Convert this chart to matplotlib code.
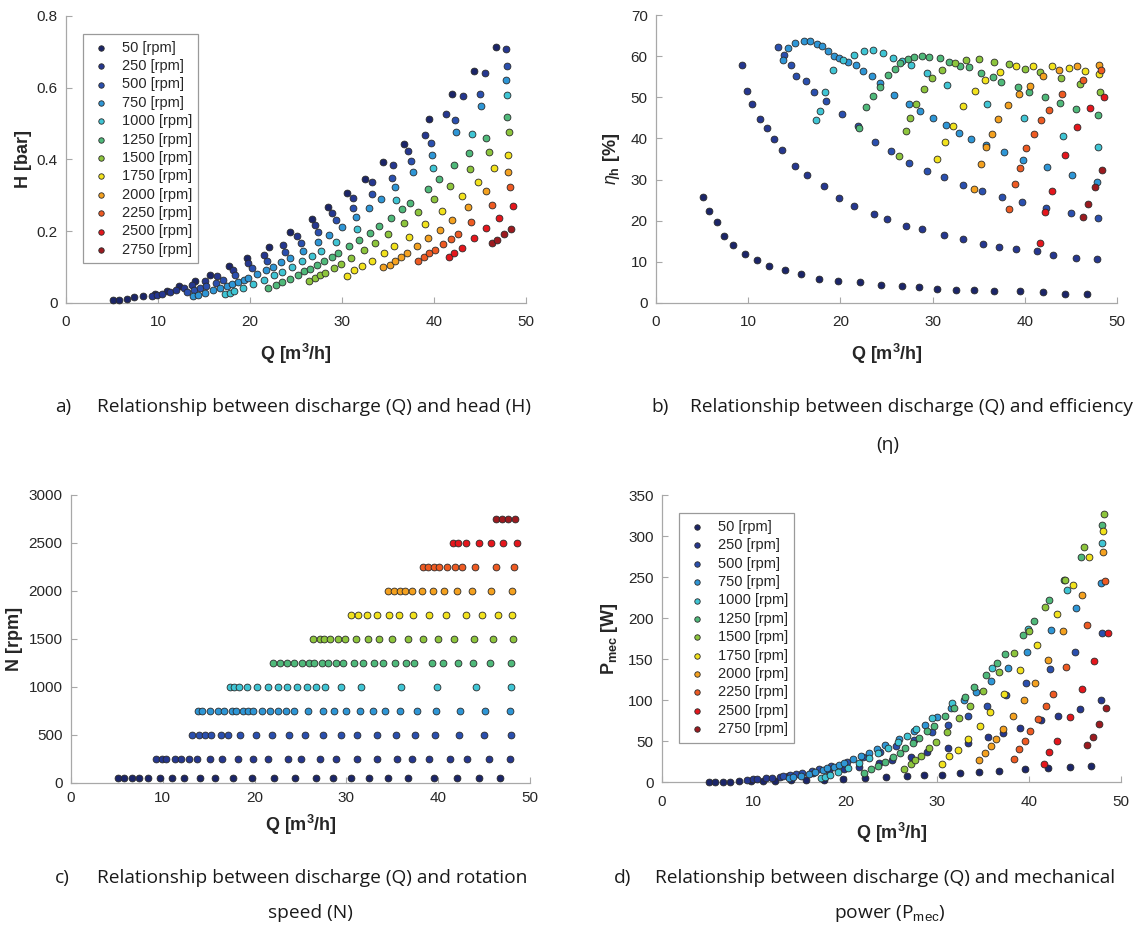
import matplotlib
matplotlib.use("Agg")
import matplotlib.pyplot as plt

plt.rcParams['font.family'] = ['Liberation Sans', 'DejaVu Sans']
plt.rcParams['mathtext.fontset'] = 'custom'
plt.rcParams['mathtext.rm'] = 'Liberation Sans'
plt.rcParams['mathtext.it'] = 'Liberation Sans:italic'
plt.rcParams['mathtext.bf'] = 'Liberation Sans:bold'

# ---------------- data ----------------
SPEEDS = [50, 250, 500, 750, 1000, 1250, 1500, 1750, 2000, 2250, 2500, 2750]

Q_50 = [5.1, 5.8, 6.6, 7.4, 8.4, 9.7, 11.0, 12.3, 14.0, 15.7, 17.7, 19.7, 22.1, 24.4, 26.7, 28.5, 30.5, 32.5, 34.5, 36.7, 39.5, 42.0, 44.4, 46.7]
H_50 = [0.007, 0.008, 0.012, 0.016, 0.020, 0.026, 0.033, 0.047, 0.061, 0.078, 0.102, 0.126, 0.156, 0.197, 0.234, 0.268, 0.307, 0.347, 0.393, 0.443, 0.513, 0.582, 0.647, 0.714]
E_50 = [25.7, 22.4, 19.6, 16.3, 14.0, 11.9, 10.3, 9.0, 8.0, 7.0, 5.8, 5.4, 5.0, 4.3, 4.0, 3.9, 3.4, 3.2, 3.1, 2.8, 2.8, 2.5, 2.2, 2.0]
P_50 = [0.3, 0.3, 0.4, 0.5, 0.7, 0.8, 1.0, 1.5, 1.9, 2.4, 2.9, 3.7, 4.8, 5.8, 7.3, 8.1, 9.0, 10.4, 12.0, 13.5, 15.9, 17.1, 17.9, 19.5]

Q_250 = [9.3, 9.9, 10.4, 11.3, 12.0, 12.8, 13.7, 15.1, 16.4, 18.2, 19.8, 21.5, 23.6, 25.1, 27.1, 28.9, 31.2, 33.3, 35.5, 37.2, 39.0, 41.3, 43.1, 45.5, 47.8]
H_250 = [0.020, 0.023, 0.026, 0.032, 0.036, 0.042, 0.049, 0.062, 0.074, 0.093, 0.112, 0.133, 0.163, 0.186, 0.218, 0.250, 0.294, 0.337, 0.385, 0.424, 0.468, 0.527, 0.576, 0.640, 0.707]
E_250 = [58.0, 51.6, 48.4, 44.8, 42.6, 39.9, 37.2, 33.4, 31.0, 28.4, 25.6, 23.6, 21.5, 20.4, 18.7, 18.0, 16.4, 15.4, 14.4, 13.6, 13.1, 12.5, 11.7, 11.0, 10.6]
P_250 = [3.0, 3.3, 3.6, 4.4, 5.2, 6.0, 7.0, 8.6, 10.5, 13.4, 15.8, 18.7, 23.0, 26.5, 30.7, 36.1, 41.8, 48.0, 54.7, 59.6, 66.4, 75.6, 80.7, 89.5, 99.5]

Q_500 = [13.2, 13.9, 14.6, 15.2, 16.3, 17.1, 18.4, 20.2, 21.9, 23.8, 25.5, 27.4, 29.4, 31.2, 33.3, 35.4, 37.5, 39.7, 42.3, 45.0, 47.9]
H_500 = [0.031, 0.036, 0.042, 0.047, 0.056, 0.064, 0.077, 0.097, 0.117, 0.143, 0.167, 0.197, 0.231, 0.264, 0.305, 0.348, 0.395, 0.446, 0.510, 0.582, 0.662]
E_500 = [62.2, 60.3, 57.8, 55.3, 54.0, 51.3, 49.2, 46.0, 43.1, 39.2, 37.0, 34.1, 32.1, 30.6, 28.7, 27.1, 25.7, 24.6, 23.1, 21.8, 20.6]
P_500 = [7.1, 8.4, 9.8, 11.0, 13.7, 15.6, 19.4, 25.0, 30.7, 37.1, 43.8, 51.1, 60.6, 70.0, 81.0, 92.7, 105.7, 121.0, 138.4, 158.6, 181.5]

Q_750 = [13.8, 14.3, 15.1, 16.0, 16.7, 17.5, 18.0, 18.7, 19.3, 19.8, 20.8, 21.7, 22.5, 23.4, 24.3, 25.8, 27.4, 28.6, 30.0, 31.5, 32.9, 34.2, 35.8, 37.7, 39.8, 42.4, 45.1, 47.8]
H_750 = [0.019, 0.023, 0.028, 0.035, 0.041, 0.048, 0.053, 0.059, 0.065, 0.071, 0.081, 0.092, 0.101, 0.113, 0.125, 0.146, 0.169, 0.189, 0.212, 0.239, 0.265, 0.290, 0.323, 0.365, 0.413, 0.477, 0.548, 0.621]
E_750 = [59.2, 62.0, 63.3, 63.7, 63.7, 63.0, 62.6, 61.3, 60.2, 59.6, 58.7, 57.8, 56.5, 55.2, 53.4, 50.6, 48.4, 46.7, 44.9, 43.3, 41.4, 39.9, 38.5, 36.6, 34.7, 33.1, 31.0, 29.5]
P_750 = [4.4, 5.6, 7.5, 10.0, 12.1, 14.7, 16.5, 18.9, 21.1, 23.1, 27.6, 32.0, 35.8, 40.4, 44.9, 52.8, 62.4, 70.0, 79.4, 90.4, 100.2, 110.1, 123.7, 139.7, 158.4, 185.8, 212.8, 243.5]

Q_1000 = [17.3, 17.8, 18.3, 19.2, 20.3, 21.5, 22.6, 23.5, 24.6, 25.7, 26.7, 27.7, 29.4, 31.6, 35.9, 39.9, 44.1, 47.9]
H_1000 = [0.025, 0.029, 0.033, 0.041, 0.052, 0.064, 0.077, 0.087, 0.101, 0.116, 0.130, 0.144, 0.170, 0.207, 0.288, 0.375, 0.471, 0.579]
E_1000 = [44.4, 46.7, 51.4, 56.7, 59.0, 60.4, 61.4, 61.6, 60.8, 59.5, 58.8, 58.0, 55.9, 53.0, 48.5, 44.9, 40.7, 37.9]
P_1000 = [5.3, 6.7, 8.7, 12.5, 17.3, 23.2, 29.6, 35.1, 42.0, 49.1, 56.5, 64.3, 77.7, 96.4, 139.4, 186.5, 235.0, 292.2]

Q_1250 = [22.0, 22.8, 23.5, 24.3, 25.2, 25.9, 26.5, 27.3, 28.0, 28.9, 29.6, 30.8, 31.8, 33.0, 34.0, 35.3, 36.5, 37.4, 39.3, 40.5, 42.2, 43.8, 45.6, 47.9]
H_1250 = [0.043, 0.051, 0.059, 0.068, 0.079, 0.088, 0.096, 0.107, 0.116, 0.129, 0.140, 0.159, 0.175, 0.196, 0.214, 0.238, 0.261, 0.279, 0.319, 0.346, 0.385, 0.417, 0.460, 0.518]
E_1250 = [42.6, 47.7, 50.4, 52.5, 55.4, 56.9, 58.5, 59.3, 59.8, 60.0, 59.8, 59.5, 58.7, 57.7, 57.3, 55.9, 54.9, 53.8, 52.6, 51.4, 50.0, 48.7, 47.2, 45.6]
P_1250 = [11.1, 15.5, 19.4, 24.2, 30.7, 36.0, 41.2, 47.9, 54.1, 62.3, 68.8, 80.8, 90.8, 103.5, 115.6, 130.4, 145.3, 156.0, 180.0, 197.0, 222.0, 247.0, 275.1, 314.3]

Q_1500 = [26.4, 27.1, 27.6, 28.2, 29.1, 29.9, 31.0, 32.4, 33.6, 35.0, 36.7, 38.3, 40.0, 41.7, 43.9, 46.0, 48.2]
H_1500 = [0.062, 0.070, 0.077, 0.085, 0.097, 0.109, 0.125, 0.147, 0.167, 0.192, 0.224, 0.255, 0.290, 0.327, 0.373, 0.422, 0.476]
E_1500 = [35.8, 41.8, 44.9, 48.3, 52.0, 54.7, 56.7, 58.5, 59.1, 59.4, 58.7, 58.1, 57.0, 56.3, 54.8, 53.2, 51.4]
P_1500 = [16.2, 22.2, 26.4, 32.1, 40.9, 49.4, 61.1, 77.6, 92.4, 110.9, 133.7, 157.6, 183.8, 213.5, 246.0, 286.9, 327.6]

Q_1750 = [30.5, 31.3, 32.2, 33.3, 34.6, 35.7, 37.3, 39.0, 40.9, 43.0, 44.8, 46.5, 48.0]
H_1750 = [0.076, 0.092, 0.103, 0.117, 0.139, 0.159, 0.185, 0.219, 0.256, 0.297, 0.338, 0.377, 0.413]
E_1750 = [34.9, 39.1, 43.0, 48.0, 51.6, 54.3, 56.1, 57.7, 57.7, 57.7, 57.2, 56.5, 55.6]
P_1750 = [22.5, 31.3, 39.6, 52.0, 68.9, 85.6, 107.5, 136.9, 167.8, 204.7, 240.6, 275.1, 306.1]

Q_2000 = [34.5, 35.2, 35.8, 36.4, 37.1, 38.2, 39.4, 40.6, 42.0, 43.7, 45.7, 48.0]
H_2000 = [0.099, 0.106, 0.116, 0.127, 0.140, 0.158, 0.180, 0.203, 0.231, 0.268, 0.312, 0.365]
E_2000 = [27.7, 33.7, 37.9, 41.0, 44.7, 48.2, 50.9, 52.8, 55.3, 56.7, 57.7, 57.8]
P_2000 = [26.3, 34.9, 43.7, 52.7, 64.5, 80.8, 100.3, 120.9, 149.0, 184.4, 228.6, 281.3]

Q_2250 = [38.3, 38.9, 39.5, 40.1, 41.0, 41.8, 42.6, 44.0, 46.3, 48.3]
H_2250 = [0.117, 0.127, 0.138, 0.149, 0.164, 0.179, 0.193, 0.226, 0.274, 0.322]
E_2250 = [22.8, 29.0, 32.9, 37.7, 41.1, 44.6, 46.9, 50.8, 54.3, 56.7]
P_2250 = [28.4, 39.8, 49.8, 62.6, 76.8, 92.7, 107.1, 140.3, 191.4, 244.9]

Q_2500 = [41.6, 42.2, 43.0, 44.4, 45.7, 47.1, 48.6]
H_2500 = [0.128, 0.140, 0.154, 0.180, 0.209, 0.238, 0.270]
E_2500 = [14.5, 22.2, 27.3, 36.0, 42.7, 47.5, 50.0]
P_2500 = [21.4, 36.4, 50.2, 79.9, 113.3, 147.9, 182.2]

Q_2750 = [46.3, 46.9, 47.6, 48.4]
H_2750 = [0.168, 0.177, 0.192, 0.207]
E_2750 = [20.8, 24.0, 28.1, 32.3]
P_2750 = [44.9, 55.3, 71.3, 89.9]

Q_ALL = [Q_50, Q_250, Q_500, Q_750, Q_1000, Q_1250, Q_1500, Q_1750, Q_2000, Q_2250, Q_2500, Q_2750]
H_ALL = [H_50, H_250, H_500, H_750, H_1000, H_1250, H_1500, H_1750, H_2000, H_2250, H_2500, H_2750]
E_ALL = [E_50, E_250, E_500, E_750, E_1000, E_1250, E_1500, E_1750, E_2000, E_2250, E_2500, E_2750]
P_ALL = [P_50, P_250, P_500, P_750, P_1000, P_1250, P_1500, P_1750, P_2000, P_2250, P_2500, P_2750]

COLORS = ['#1b2568', '#25378f', '#2a4fae', '#2e96d6', '#3fc5d4', '#4fb97a',
          '#8dc53c', '#f2e21c', '#f4a11f', '#ee5a22', '#e5161c', '#9c1a1f']

# ---------------- figure ----------------
W, H = 1138, 933
fig = plt.figure(figsize=(W / 100, H / 100), dpi=100)


def add_axes(x0, x1, ytop, ybot):
    return fig.add_axes([x0 / W, 1 - ybot / H, (x1 - x0) / W, (ybot - ytop) / H])


ax_a = add_axes(66, 526, 16, 303)
ax_b = add_axes(656, 1117, 15.3, 302.7)
ax_c = add_axes(71, 530, 495, 782.7)
ax_d = add_axes(662, 1121, 495.3, 782)

AXC = '#a8a8a8'
TXT = '#262626'


def style(ax, ylim, yticks, ylabels):
    ax.set_xlim(0, 50)
    ax.set_xticks([0, 10, 20, 30, 40, 50])
    ax.set_ylim(*ylim)
    ax.set_yticks(yticks)
    ax.set_yticklabels(ylabels)
    for s in ['top', 'right']:
        ax.spines[s].set_visible(False)
    for s in ['left', 'bottom']:
        ax.spines[s].set_color(AXC)
        ax.spines[s].set_linewidth(0.9)
    ax.tick_params(direction='in', length=4, width=0.8, color=AXC,
                   labelsize=11, labelcolor=TXT, pad=6)
    ax.tick_params(axis='x', pad=9)
    ax.set_xlabel(r'Q [m$^\mathbf{3}$/h]', fontsize=13, fontweight='bold',
                  color=TXT, labelpad=9)


MS = 24
for i, n in enumerate(SPEEDS):
    kw = dict(s=MS, c=COLORS[i], edgecolors='#2a2a2a', linewidths=0.6,
              zorder=3, clip_on=False, label=f'{n} [rpm]')
    ax_a.scatter(Q_ALL[i], H_ALL[i], **kw)
    ax_b.scatter(Q_ALL[i], E_ALL[i], **kw)
    ax_c.scatter(Q_ALL[i], [n] * len(Q_ALL[i]), **kw)
    ax_d.scatter(Q_ALL[i], P_ALL[i], **kw)

style(ax_a, (0, 0.8), [0, 0.2, 0.4, 0.6, 0.8], ['0', '0.2', '0.4', '0.6', '0.8'])
style(ax_b, (0, 70), [0, 10, 20, 30, 40, 50, 60, 70], ['0', '10', '20', '30', '40', '50', '60', '70'])
style(ax_c, (0, 3000), [0, 500, 1000, 1500, 2000, 2500, 3000],
      ['0', '500', '1000', '1500', '2000', '2500', '3000'])
style(ax_d, (0, 350), [0, 50, 100, 150, 200, 250, 300, 350],
      ['0', '50', '100', '150', '200', '250', '300', '350'])
ax_c.tick_params(axis='x', pad=6)
ax_c.xaxis.labelpad = 6

ax_a.set_ylabel('H [bar]', fontsize=13, fontweight='bold', color=TXT, labelpad=3)
ax_b.set_ylabel(r'$\eta_\mathbf{h}$ [%]', fontsize=13, fontweight='bold', color=TXT, labelpad=6)
ax_c.set_ylabel('N [rpm]', fontsize=13, fontweight='bold', color=TXT, labelpad=4)
ax_d.set_ylabel(r'$\mathbf{P_{mec}}$ [W]', fontsize=13, fontweight='bold', color=TXT, labelpad=6)

for ax in (ax_a, ax_d):
    leg = ax.legend(loc='upper left', bbox_to_anchor=(0.037, 0.937), borderaxespad=0,
                    fontsize=10.5, frameon=True, fancybox=False, edgecolor='#9a9a9a',
                    framealpha=1, scatterpoints=1, handlelength=1.6, handletextpad=0.6,
                    labelspacing=0.30, borderpad=0.45, markerscale=0.8)
    leg.get_frame().set_linewidth(0.9)
    for t in leg.get_texts():
        t.set_color(TXT)

# ---------------- captions ----------------
CAP = dict(fontsize=13.8, family=['Open Sans', 'DejaVu Sans'], color='#1a1a1a', va='center')


def cap(x, y, s, ha='left'):
    fig.text(x / W, 1 - y / H, s, ha=ha, **CAP)


cap(55, 407, 'a)')
cap(97, 407, 'Relationship between discharge (Q) and head (H)')
cap(651, 407, 'b)')
cap(690, 407, 'Relationship between discharge (Q) and efficiency')
cap(888, 445, '(\u03b7)', ha='center')
cap(55, 878, 'c)')
cap(97, 878, 'Relationship between discharge (Q) and rotation')
cap(310, 913, 'speed (N)', ha='center')
cap(614, 878, 'd)')
cap(655, 878, 'Relationship between discharge (Q) and mechanical')
cap(890, 913, r'power (P$_{\mathrm{mec}}$)', ha='center')

fig.savefig('out.png', dpi=100)
